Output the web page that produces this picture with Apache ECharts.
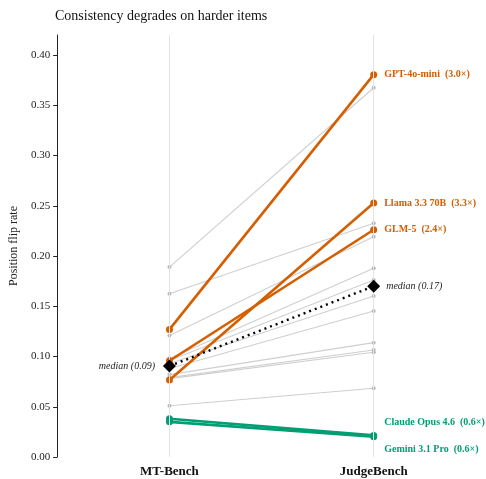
<!DOCTYPE html>
<html><head><meta charset="utf-8">
<script src="https://cdn.jsdelivr.net/npm/echarts@6/dist/echarts.min.js"></script>
<style>html,body{margin:0;padding:0;background:#fff}#c{width:486px;height:479px}</style>
</head><body><div id="c"></div>
<script>
const benchmarks = ['MT-Bench', 'JudgeBench'];
const highlightNames = ['GPT-4o-mini', 'Llama 3.3 70B', 'GLM-5', 'Claude Opus 4.6', 'Gemini 3.1 Pro'];
const highlightMT = [0.127, 0.0766, 0.0958, 0.038, 0.035];
const highlightJB = [0.3805, 0.2528, 0.2262, 0.0215, 0.0202];
const highlightGroup = ['worse', 'worse', 'worse', 'better', 'better'];
const otherMT = [0.189, 0.1625, 0.121, 0.098, 0.096, 0.093, 0.088, 0.082, 0.079, 0.078, 0.051];
const otherJB = [0.3675, 0.2326, 0.2192, 0.1878, 0.1762, 0.1602, 0.1453, 0.1138, 0.1065, 0.1042, 0.0684];
const medianMT = 0.0905;
const medianJB = 0.170;
const yTicks = [0, 0.05, 0.10, 0.15, 0.20, 0.25, 0.30, 0.35, 0.40];

const FONT = '"Liberation Serif", "DejaVu Serif", serif';
const groupColor = { worse: '#D55E00', better: '#009E73' };
const labelOffset = { 'Claude Opus 4.6': [0, -13], 'Gemini 3.1 Pro': [0, 13] };

const chart = echarts.init(document.getElementById('c'), null, { renderer: 'canvas' });
const series = [];

series.push({
  type: 'line', data: [], silent: true,
  markLine: {
    silent: true, symbol: 'none', label: { show: false },
    lineStyle: { color: '#e3e3e3', width: 1, type: 'solid' },
    data: benchmarks.map((b, i) => ({ xAxis: i }))
  }
});

otherMT.forEach((v, i) => {
  series.push({
    type: 'line', z: 2,
    data: [[0, v], [1, otherJB[i]]],
    symbol: 'circle', symbolSize: 4,
    itemStyle: { color: '#b8b8b8', borderWidth: 0, opacity: 1 },
    lineStyle: { color: '#cfcfcf', width: 1.1 },
    emphasis: { disabled: true }, animation: false
  });
});

highlightNames.forEach((name, i) => {
  const color = groupColor[highlightGroup[i]];
  const ratio = (highlightJB[i] / highlightMT[i]).toFixed(1);
  series.push({
    type: 'line', z: 4, name,
    data: [
      { value: [0, highlightMT[i]] },
      { value: [1, highlightJB[i]], label: {
          show: true, position: 'right', distance: 7,
          offset: labelOffset[name] || [0, 0],
          formatter: name + '  (' + ratio + '\u00d7)',
          color, fontFamily: FONT, fontWeight: 'bold', fontSize: 10
        } }
    ],
    symbol: 'circle', symbolSize: 7,
    itemStyle: { color, borderWidth: 0, opacity: 1 },
    lineStyle: { color, width: 2.6 },
    emphasis: { disabled: true }, animation: false
  });
});

series.push({
  type: 'line', z: 6,
  data: [
    { value: [0, medianMT], label: { show: true, position: 'left', distance: 8,
      formatter: 'median (' + medianMT.toFixed(2) + ')' } },
    { value: [1, medianJB], label: { show: true, position: 'right', distance: 6,
      formatter: 'median (' + medianJB.toFixed(2) + ')' } }
  ],
  symbol: 'diamond', symbolSize: [13, 13],
  itemStyle: { color: '#000', borderWidth: 0 },
  lineStyle: { color: '#000', width: 2.4, type: [2, 4] },
  label: { color: '#222', fontFamily: FONT, fontStyle: 'italic', fontSize: 10 },
  emphasis: { disabled: true }, animation: false
});

chart.setOption({
  animation: false,
  backgroundColor: '#fff',
  title: {
    text: 'Consistency degrades on harder items',
    left: 50, top: 4,
    textStyle: { fontFamily: FONT, fontSize: 14, fontWeight: 'normal', color: '#111' }
  },
  grid: { left: 48, right: 0, top: 35, bottom: 22, containLabel: false },
  xAxis: {
    type: 'value', min: -0.55, max: 1.55,
    axisLine: { show: false }, axisTick: { show: false }, splitLine: { show: false },
    axisLabel: {
      customValues: [0, 1],
      formatter: v => benchmarks[Math.round(v)] || '',
      fontFamily: FONT, fontSize: 13, fontWeight: 'bold', color: '#111', margin: 8
    }
  },
  yAxis: {
    type: 'value', min: 0, max: 0.42,
    name: 'Position flip rate', nameLocation: 'middle', nameGap: 34, nameRotate: 90,
    nameTextStyle: { fontFamily: FONT, fontSize: 12, color: '#222' },
    axisLine: { show: true, onZero: false, lineStyle: { color: '#222', width: 1 } },
    axisTick: { show: true, customValues: yTicks, length: 4, lineStyle: { color: '#222' } },
    axisLabel: { customValues: yTicks, formatter: v => v.toFixed(2), fontFamily: FONT, fontSize: 11, color: '#222', margin: 7 },
    splitLine: { show: false }
  },
  series
});
</script></body></html>
